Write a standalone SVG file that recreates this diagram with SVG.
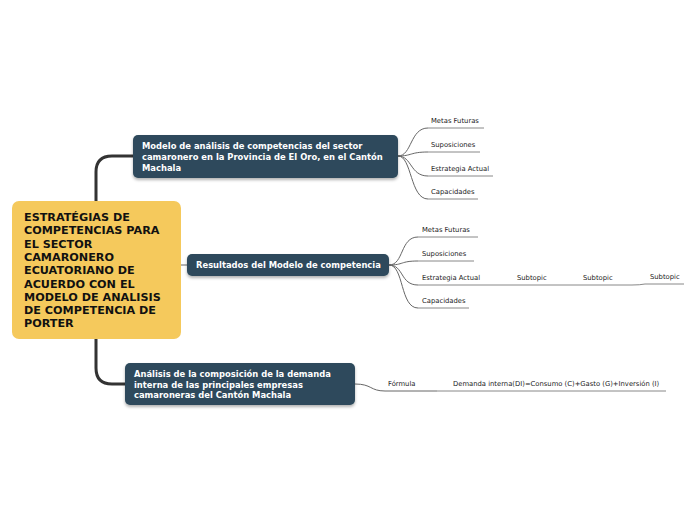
<svg xmlns="http://www.w3.org/2000/svg" width="696" height="520" viewBox="0 0 696 520">
<defs>
<filter id="sh" x="-10%" y="-20%" width="120%" height="160%">
<feDropShadow dx="0" dy="2" stdDeviation="1.5" flood-color="#000" flood-opacity="0.3"/>
</filter>
<style>
.root{fill:#F5C95C}
.node{fill:#2D4A5B;filter:url(#sh)}
.rt{font-family:"DejaVu Sans",Verdana,sans-serif;font-weight:bold;font-size:11.2px;fill:#111}
.nt{font-family:"DejaVu Sans",Verdana,sans-serif;font-weight:bold;font-size:8.4px;fill:#fff}
.st{font-family:"DejaVu Sans",Verdana,sans-serif;font-size:6.8px;fill:#222}
.trunk{fill:none;stroke:#333;stroke-width:3}
.thin{fill:none;stroke:#666;stroke-width:1}
.ul{fill:none;stroke:#888;stroke-width:1}
</style>
</defs>
<rect width="696" height="520" fill="#fff"/>
<g id="connectors">
<path class="trunk" d="M96,201 V172 Q96,156 112,156 H133"/>
<path class="trunk" d="M96,339 V368 Q96,384 112,384 H125"/>
<path class="thin" d="M181,265 H187"/>
<path class="thin" d="M398,156 C412,156 410,128 428,128"/>
<path class="thin" d="M398,156 C412,156 410,152 428,152"/>
<path class="thin" d="M398,156 C412,156 410,176 428,176"/>
<path class="thin" d="M398,156 C412,156 410,199 428,199"/>
<path class="ul" d="M428,128 H484 M428,152 H480 M428,176 H493 M428,199 H478"/>
<path class="thin" d="M389,265 C404,265 400,237 418,237"/>
<path class="thin" d="M389,265 C404,265 400,261 418,261"/>
<path class="thin" d="M389,265 C404,265 400,285 418,285"/>
<path class="thin" d="M389,265 C404,265 400,308 418,308"/>
<path class="ul" d="M418,237 H478 M418,261 H474 M418,285 H632 Q640,285 645,284 H684 M418,308 H469"/>
<path class="thin" d="M355,384 C372,384 370,391 385,391 H437"/>
<path class="ul" d="M437,391 H666"/>
</g>
<g id="root">
<rect class="root" x="12" y="201" width="169" height="138" rx="7"/>
<text class="rt"><tspan x="24" y="221">ESTRATÉGIAS DE</tspan><tspan x="24" y="234.3">COMPETENCIAS PARA</tspan><tspan x="24" y="247.6">EL SECTOR</tspan><tspan x="24" y="260.9">CAMARONERO</tspan><tspan x="24" y="274.2">ECUATORIANO DE</tspan><tspan x="24" y="287.5">ACUERDO CON EL</tspan><tspan x="24" y="300.8">MODELO DE ANALISIS</tspan><tspan x="24" y="314.1">DE COMPETENCIA DE</tspan><tspan x="24" y="327.4">PORTER</tspan></text>
</g>
<g id="node1">
<rect class="node" x="133" y="135" width="265" height="43" rx="5"/>
<text class="nt"><tspan x="142" y="149">Modelo de análisis de competencias del sector</tspan><tspan x="142" y="160">camaronero en la Provincia de El Oro, en el Cantón</tspan><tspan x="142" y="171">Machala</tspan></text>
</g>
<g id="node2">
<rect class="node" x="187" y="254" width="202" height="22" rx="5"/>
<text class="nt" x="196" y="268">Resultados del Modelo de competencia</text>
</g>
<g id="node3">
<rect class="node" x="125" y="363" width="230" height="42" rx="5"/>
<text class="nt"><tspan x="134" y="377">Análisis de la composición de la demanda</tspan><tspan x="134" y="387.5">interna de las principales empresas</tspan><tspan x="134" y="398">camaroneras del Cantón Machala</tspan></text>
</g>
<g id="n1-subs">
<text class="st" x="431" y="123">Metas Futuras</text>
<text class="st" x="431" y="147">Suposiciones</text>
<text class="st" x="431" y="171">Estrategia Actual</text>
<text class="st" x="431" y="194">Capacidades</text>
</g>
<g id="n2-subs">
<text class="st" x="422" y="232">Metas Futuras</text>
<text class="st" x="422" y="256">Suposiciones</text>
<text class="st" x="422" y="280">Estrategia Actual</text>
<text class="st" x="422" y="303">Capacidades</text>
<text class="st" x="517" y="280">Subtopic</text>
<text class="st" x="583" y="280">Subtopic</text>
<text class="st" x="650" y="279">Subtopic</text>
</g>
<g id="n3-subs">
<text class="st" x="388" y="386">Fórmula</text>
<text class="st" x="453" y="386">Demanda interna(DI)=Consumo (C)+Gasto (G)+Inversión (I)</text>
</g>
</svg>
